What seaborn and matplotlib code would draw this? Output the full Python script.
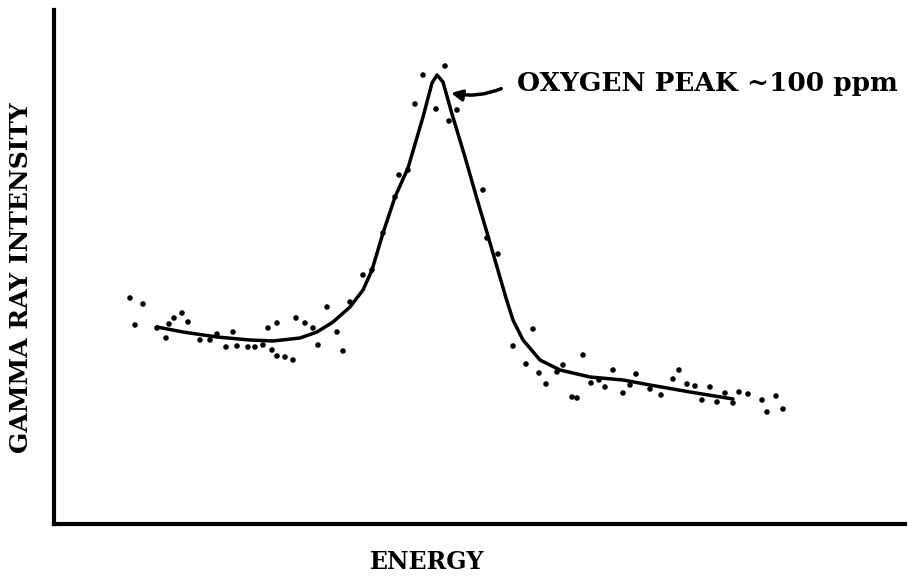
import matplotlib
matplotlib.use("Agg")
import matplotlib.pyplot as plt
import numpy as np
import pandas as pd
import seaborn as sns

pt_energy = [76, 89, 81, 103, 112, 115, 120, 128, 134, 146, 156, 163, 172, 179, 183,
             194, 201, 209, 214, 218, 223, 223, 231, 239, 242, 251, 259, 264, 273, 283,
             289, 296, 309, 318, 329, 341, 345, 354, 361, 369, 382, 391, 395, 403, 429,
             433, 444, 479, 459, 472, 485, 492, 509, 503, 518, 523, 529, 537, 545, 551,
             559, 569, 576, 582, 596, 607, 619, 625, 633, 641, 648, 656, 663, 671, 679,
             685, 694, 708, 713, 722, 729]
pt_intensity = [226, 220, 199, 196, 186, 200, 206, 211, 202, 184, 184, 190, 177, 192, 178,
                177, 177, 179, 196, 174, 201, 168, 167, 164, 206, 201, 196, 179, 217, 192,
                173, 222, 249, 254, 291, 327, 349, 354, 420, 449, 415, 458, 403, 414, 334,
                286, 270, 195, 178, 160, 151, 140, 159, 152, 127, 126, 169, 141, 144, 137,
                154, 131, 139, 150, 135, 129, 145, 154, 140, 138, 124, 137, 122, 131, 121,
                132, 130, 124, 112, 128, 115]

# hand-drawn fit curve
fit_energy = [103, 129, 163, 196, 219, 246, 263, 279, 296, 309, 318, 329, 341, 354, 369,
              378, 383, 389, 398, 411, 423, 434, 443, 452, 459, 469, 486, 506, 536, 569,
              596, 636, 679]
fit_intensity = [197, 192, 187, 184, 183, 186, 192, 202, 217, 234, 254, 291, 327, 356, 407,
                 441, 449, 442, 410, 367, 325, 288, 257, 226, 204, 184, 164, 154, 147, 144,
                 139, 132, 125]

sns.set_theme(style="white")
typewriter = {"family": "DejaVu Serif", "weight": "bold"}

fig = plt.figure(figsize=(9.17, 5.78), dpi=100)
ax = fig.add_axes([54 / 917, 54 / 578, 851 / 917, 514 / 578])

sns.lineplot(x=fit_energy, y=fit_intensity, color="black", linewidth=2.5, ax=ax,
             sort=False)
sns.scatterplot(x=pt_energy, y=pt_intensity, color="black", s=16, edgecolor="none",
                ax=ax)

ax.set_xlim(0, 851)
ax.set_ylim(0, 514)
ax.set_xticks([])
ax.set_yticks([])
sns.despine(ax=ax)
for side in ["left", "bottom"]:
    ax.spines[side].set_linewidth(3)
    ax.spines[side].set_color("black")

ax.set_xlabel("ENERGY", fontdict=typewriter, fontsize=17, color="black")
ax.set_ylabel("GAMMA RAY INTENSITY", fontdict=typewriter, fontsize=18, color="black")
ax.xaxis.set_label_coords(0.438, -0.05)
ax.yaxis.set_label_coords(-0.025, 0.48)

ax.annotate("OXYGEN PEAK ~100 ppm", xy=(397, 431), xytext=(463, 441),
            ha="left", va="center", fontsize=19, fontweight="bold",
            family="DejaVu Serif", color="black",
            arrowprops=dict(arrowstyle="-|>", color="black", lw=2.5,
                            relpos=(0, 0.6), shrinkA=10, shrinkB=0,
                            connectionstyle="arc3,rad=-0.2", mutation_scale=16))

fig.savefig("out.png", dpi=100)
